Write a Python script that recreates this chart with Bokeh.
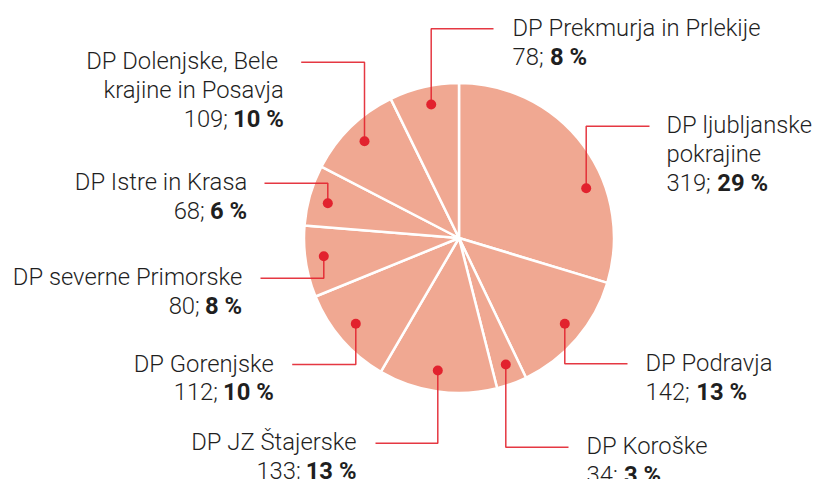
import math
from bokeh.plotting import figure
from bokeh.models import ColumnDataSource, Range1d
from bokeh.core.properties import value
from bokeh.embed import file_html
from bokeh.resources import INLINE

# ---- data ----
names = ["DP ljubljanske pokrajine", "DP Podravja", "DP Koroške", "DP JZ Štajerske",
         "DP Gorenjske", "DP severne Primorske", "DP Istre in Krasa",
         "DP Dolenjske, Bele krajine in Posavja", "DP Prekmurja in Prlekije"]
values = [319, 142, 34, 133, 112, 80, 68, 109, 78]
pct_labels = ["29 %", "13 %", "3 %", "13 %", "10 %", "8 %", "6 %", "10 %", "8 %"]
name_lines = [["DP ljubljanske", "pokrajine"], ["DP Podravja"], ["DP Koroške"],
              ["DP JZ Štajerske"], ["DP Gorenjske"], ["DP severne Primorske"],
              ["DP Istre in Krasa"], ["DP Dolenjske, Bele ", "krajine in Posavja"],
              ["DP Prekmurja in Prlekije"]]

# ---- layout (page pixel coordinates) ----
W, H = 816, 479
CX, CY, R = 458.5, 237.5, 155
dot_x = [585.7, 564.3, 505.3, 437.3, 355.3, 323.3, 327.3, 364.0, 430.7]
dot_y = [187.7, 323.3, 364.0, 370.0, 323.3, 255.7, 202.7, 140.7, 104.0]
elbow_y = [125.7, 363.3, 446.7, 442.7, 364.0, 277.7, 182.7, 61.7, 28.3]
end_x = [649, 627, 568, 375, 291.7, 260, 264, 300.7, 493]
text_x = [666, 645, 586, 356, 273.3, 241.7, 246.7, 283.3, 512]
side = ["L", "L", "L", "R", "R", "R", "R", "R", "L"]

FS = 23.8
LH = 28.8
FONT = "'Roboto Light', Roboto"
PIE = "#F0A892"
RED = "#E2222E"
TXT = "#1f1f1f"


def Y(py):
    return H - py


# approximate Roboto advance widths (em)
REG = {d: 0.5615 for d in "0123456789"}
REG.update({";": 0.205, " ": 0.245, "%": 0.716})
BOLD = {d: 0.5615 for d in "0123456789"}
BOLD.update({" ": 0.245, "%": 0.735})


def tw(s, table):
    return sum(table.get(c, 0.55) for c in s) * FS


p = figure(width=W, height=H, x_range=Range1d(0, W), y_range=Range1d(0, H),
           output_backend="svg", toolbar_location=None, min_border=0,
           background_fill_color="white", border_fill_color="white")
p.axis.visible = False
p.grid.visible = False
p.outline_line_color = None

# wedges
total = sum(values)
starts, ends = [], []
cum = 0
for v in values:
    starts.append(math.pi / 2 - 2 * math.pi * cum / total)
    cum += v
    ends.append(math.pi / 2 - 2 * math.pi * cum / total)
src = ColumnDataSource(dict(start=starts, end=ends, name=names, val=values))
p.wedge(x=CX, y=Y(CY), radius=R, start_angle="start", end_angle="end",
        direction="clock", fill_color=PIE, line_color="white", line_width=2.5,
        source=src)

# connectors
xs, ys = [], []
for i in range(len(values)):
    xs.append([dot_x[i], dot_x[i], end_x[i]])
    ys.append([Y(dot_y[i]), Y(elbow_y[i]), Y(elbow_y[i])])
p.multi_line(xs=xs, ys=ys, line_color=RED, line_width=1.5, line_alpha=0.9)
p.scatter(x=dot_x, y=[Y(v) for v in dot_y], size=10, fill_color=RED, line_color=None)

# labels
tx, ty, tt, ta = [], [], [], []
bx, by, bt, ba = [], [], [], []
for i in range(len(values)):
    base = elbow_y[i] - 1.0
    for k, line in enumerate(name_lines[i]):
        tx.append(text_x[i]); ty.append(Y(base + k * LH)); tt.append(line)
        ta.append("left" if side[i] == "L" else "right")
    ly = Y(base + len(name_lines[i]) * LH)
    num = f"{values[i]};"
    if side[i] == "L":
        tx.append(text_x[i]); ty.append(ly); tt.append(num); ta.append("left")
        bx.append(text_x[i] + tw(num + " ", REG)); by.append(ly); bt.append(pct_labels[i]); ba.append("left")
    else:
        bx.append(text_x[i]); by.append(ly); bt.append(pct_labels[i]); ba.append("right")
        tx.append(text_x[i] - tw(pct_labels[i], BOLD) - tw(" ", REG)); ty.append(ly); tt.append(num); ta.append("right")

p.text(x="x", y="y", text="t", text_align="a",
       source=ColumnDataSource(dict(x=tx, y=ty, t=tt, a=ta)),
       text_font=value(FONT), text_font_size=f"{FS}px", text_color=TXT,
       text_baseline="alphabetic")
p.text(x="x", y="y", text="t", text_align="a",
       source=ColumnDataSource(dict(x=bx, y=by, t=bt, a=ba)),
       text_font=value("Roboto"), text_font_size=f"{FS}px", text_color=TXT,
       text_font_style="bold", text_baseline="alphabetic")

open("out.html", "w").write(file_html(p, INLINE))
